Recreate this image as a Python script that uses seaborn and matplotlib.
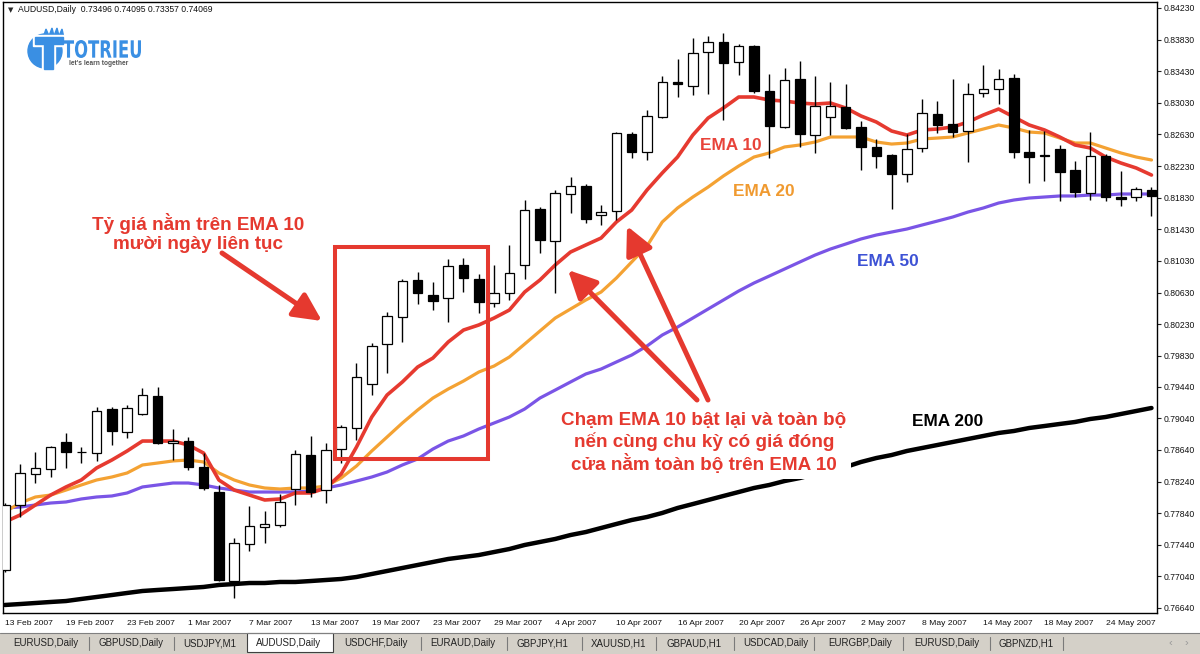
import matplotlib
matplotlib.use('Agg')
import matplotlib.pyplot as plt
import seaborn as sns
from matplotlib.patches import Rectangle, Circle, Polygon, FancyArrowPatch, PathPatch
from matplotlib.textpath import TextPath
from matplotlib.font_manager import FontProperties
from matplotlib.transforms import Affine2D

# AUDUSD daily candles, 13 Feb 2007 .. 29 May 2007
opens = [0.77121, 0.77943, 0.78335, 0.78398, 0.78740, 0.78613, 0.78601, 0.79157, 0.78866, 0.79094,
         0.79322, 0.78727, 0.78753, 0.78424, 0.78107, 0.76981, 0.77450, 0.77665, 0.77690, 0.78145,
         0.78575, 0.78133, 0.78651, 0.78917, 0.79474, 0.79980, 0.80321, 0.80789, 0.80599, 0.80561,
         0.80979, 0.80802, 0.80498, 0.80625, 0.80979, 0.81687, 0.81282, 0.81877, 0.81978, 0.81611,
         0.81662, 0.82636, 0.82408, 0.82851, 0.83294, 0.83243, 0.83673, 0.83800, 0.83547, 0.83749,
         0.83180, 0.82725, 0.83332, 0.82623, 0.82851, 0.82978, 0.82725, 0.82472, 0.82370, 0.82130,
         0.82459, 0.82889, 0.82763, 0.82674, 0.83155, 0.83205, 0.83345, 0.82408, 0.82370, 0.82446,
         0.82181, 0.81890, 0.82358, 0.81840, 0.81839, 0.81928]
highs = [0.77968, 0.78462, 0.78613, 0.78689, 0.78854, 0.78677, 0.79183, 0.79180, 0.79208, 0.79423,
         0.79436, 0.78904, 0.78803, 0.78601, 0.78196, 0.77526, 0.77930, 0.77867, 0.78082, 0.78639,
         0.78816, 0.78727, 0.78955, 0.79739, 0.79992, 0.80384, 0.80802, 0.80890, 0.80764, 0.81055,
         0.81068, 0.80865, 0.80979, 0.81232, 0.81801, 0.81713, 0.81928, 0.82092, 0.82004, 0.81738,
         0.82660, 0.82661, 0.82940, 0.83370, 0.83585, 0.83851, 0.83876, 0.83914, 0.83775, 0.83762,
         0.83395, 0.83471, 0.83560, 0.83370, 0.83294, 0.83269, 0.82801, 0.82573, 0.82380, 0.82636,
         0.83079, 0.83054, 0.83332, 0.83281, 0.83509, 0.83458, 0.83395, 0.82687, 0.82674, 0.82497,
         0.82295, 0.82661, 0.82383, 0.82168, 0.81966, 0.81966]
lows = [0.77095, 0.77791, 0.78221, 0.78297, 0.78411, 0.78474, 0.78500, 0.78702, 0.78790, 0.79081,
        0.78715, 0.78512, 0.78386, 0.78133, 0.76981, 0.76766, 0.77361, 0.77462, 0.77665, 0.77943,
        0.78044, 0.77968, 0.78474, 0.78765, 0.79334, 0.79613, 0.80005, 0.80486, 0.80410, 0.80258,
        0.80637, 0.80372, 0.80448, 0.80536, 0.80802, 0.81131, 0.80625, 0.81637, 0.81510, 0.81485,
        0.81548, 0.82332, 0.82307, 0.82840, 0.83104, 0.83129, 0.83142, 0.82813, 0.83382, 0.83155,
        0.82332, 0.82712, 0.82472, 0.82396, 0.82623, 0.82700, 0.82181, 0.82206, 0.81687, 0.82029,
        0.82408, 0.82649, 0.82598, 0.82282, 0.83104, 0.83016, 0.82332, 0.82016, 0.82042, 0.81789,
        0.81839, 0.81801, 0.81789, 0.81725, 0.81789, 0.81599]
closes = [0.77943, 0.78348, 0.78411, 0.78677, 0.78613, 0.78610, 0.79132, 0.78879, 0.79170, 0.79334,
          0.78727, 0.78753, 0.78424, 0.78158, 0.76994, 0.77462, 0.77677, 0.77703, 0.77981, 0.78588,
          0.78107, 0.78639, 0.78930, 0.79562, 0.79954, 0.80334, 0.80777, 0.80625, 0.80524, 0.80966,
          0.80814, 0.80511, 0.80625, 0.80878, 0.81675, 0.81295, 0.81890, 0.81978, 0.81561, 0.81649,
          0.82649, 0.82408, 0.82864, 0.83294, 0.83269, 0.83661, 0.83800, 0.83534, 0.83749, 0.83180,
          0.82737, 0.83319, 0.82636, 0.82990, 0.82990, 0.82712, 0.82472, 0.82358, 0.82130, 0.82446,
          0.82902, 0.82750, 0.82661, 0.83142, 0.83205, 0.83332, 0.82408, 0.82345, 0.82360, 0.82155,
          0.81902, 0.82358, 0.81839, 0.81820, 0.81940, 0.81852]

ema10 = [0.77728, 0.77816, 0.77943, 0.78069, 0.78171, 0.78259, 0.78411, 0.78512, 0.78626, 0.78752,
         0.78752, 0.78752, 0.78702, 0.78600, 0.78259, 0.78132, 0.78069, 0.78006, 0.78019, 0.78095,
         0.78095, 0.78158, 0.78335, 0.78676, 0.79056, 0.79334, 0.79499, 0.79688, 0.79802, 0.80005,
         0.80156, 0.80220, 0.80308, 0.80409, 0.80637, 0.80789, 0.80979, 0.81143, 0.81232, 0.81320,
         0.81523, 0.81674, 0.81927, 0.82143, 0.82345, 0.82623, 0.82838, 0.82965, 0.83104, 0.83104,
         0.83066, 0.83053, 0.83028, 0.83015, 0.83028, 0.82965, 0.82864, 0.82788, 0.82674, 0.82623,
         0.82687, 0.82699, 0.82725, 0.82788, 0.82876, 0.82952, 0.82851, 0.82750, 0.82687, 0.82598,
         0.82497, 0.82459, 0.82345, 0.82269, 0.82206, 0.82117]
ema20 = [0.77854, 0.77968, 0.78044, 0.78069, 0.78132, 0.78196, 0.78259, 0.78297, 0.78348, 0.78449,
         0.78474, 0.78500, 0.78512, 0.78487, 0.78348, 0.78259, 0.78196, 0.78158, 0.78145, 0.78158,
         0.78158, 0.78183, 0.78285, 0.78436, 0.78626, 0.78803, 0.78980, 0.79144, 0.79296, 0.79410,
         0.79511, 0.79625, 0.79701, 0.79815, 0.79979, 0.80144, 0.80308, 0.80422, 0.80536, 0.80637,
         0.80814, 0.81017, 0.81219, 0.81523, 0.81700, 0.81839, 0.81965, 0.82105, 0.82231, 0.82345,
         0.82396, 0.82472, 0.82497, 0.82535, 0.82598, 0.82598, 0.82598, 0.82535, 0.82509, 0.82522,
         0.82573, 0.82585, 0.82598, 0.82649, 0.82699, 0.82750, 0.82712, 0.82661, 0.82649, 0.82585,
         0.82522, 0.82522, 0.82459, 0.82396, 0.82345, 0.82307]
ema50 = [0.77905, 0.77917, 0.77943, 0.77968, 0.77981, 0.78019, 0.78044, 0.78057, 0.78095, 0.78171,
         0.78196, 0.78221, 0.78221, 0.78196, 0.78158, 0.78132, 0.78107, 0.78107, 0.78107, 0.78107,
         0.78120, 0.78158, 0.78196, 0.78246, 0.78297, 0.78360, 0.78449, 0.78525, 0.78651, 0.78752,
         0.78816, 0.78904, 0.78980, 0.79056, 0.79157, 0.79296, 0.79397, 0.79499, 0.79600, 0.79663,
         0.79752, 0.79840, 0.79954, 0.80093, 0.80194, 0.80308, 0.80422, 0.80536, 0.80650, 0.80751,
         0.80839, 0.80928, 0.81017, 0.81105, 0.81181, 0.81244, 0.81308, 0.81358, 0.81396, 0.81434,
         0.81485, 0.81535, 0.81586, 0.81649, 0.81700, 0.81763, 0.81801, 0.81826, 0.81839, 0.81852,
         0.81852, 0.81864, 0.81864, 0.81877, 0.81877, 0.81877]
ema200 = [0.76678, 0.76690, 0.76703, 0.76716, 0.76728, 0.76754, 0.76779, 0.76804, 0.76830, 0.76855,
          0.76868, 0.76880, 0.76893, 0.76906, 0.76931, 0.76943, 0.76956, 0.76956, 0.76969, 0.76969,
          0.76981, 0.76994, 0.77007, 0.77032, 0.77070, 0.77108, 0.77146, 0.77184, 0.77222, 0.77260,
          0.77285, 0.77310, 0.77348, 0.77386, 0.77437, 0.77475, 0.77513, 0.77563, 0.77601, 0.77652,
          0.77703, 0.77753, 0.77791, 0.77842, 0.77905, 0.77955, 0.78006, 0.78057, 0.78107, 0.78158,
          0.78196, 0.78246, 0.78284, 0.78335, 0.78373, 0.78424, 0.78487, 0.78537, 0.78575, 0.78626,
          0.78664, 0.78702, 0.78740, 0.78778, 0.78816, 0.78854, 0.78879, 0.78917, 0.78942, 0.78968,
          0.78993, 0.79031, 0.79056, 0.79094, 0.79132, 0.79170]

date_ticks = [0, 4, 8, 12, 16, 20, 24, 28, 32, 36, 40, 44, 48, 52, 56, 60, 64, 68, 72]
date_labels = ['13 Feb 2007', '19 Feb 2007', '23 Feb 2007', '1 Mar 2007', '7 Mar 2007',
               '13 Mar 2007', '19 Mar 2007', '23 Mar 2007', '29 Mar 2007', '4 Apr 2007',
               '10 Apr 2007', '16 Apr 2007', '20 Apr 2007', '26 Apr 2007', '2 May 2007',
               '8 May 2007', '14 May 2007', '18 May 2007', '24 May 2007']
price_ticks = [0.84230, 0.83830, 0.83430, 0.83030, 0.82630, 0.82230, 0.81830, 0.81430, 0.81030,
               0.80630, 0.80230, 0.79830, 0.79440, 0.79040, 0.78640, 0.78240, 0.77840, 0.77440,
               0.77040, 0.76640]
tabs = ['EURUSD,Daily', 'GBPUSD,Daily', 'USDJPY,M1', 'AUDUSD,Daily', 'USDCHF,Daily',
        'EURAUD,Daily', 'GBPJPY,H1', 'XAUUSD,H1', 'GBPAUD,H1', 'USDCAD,Daily',
        'EURGBP,Daily', 'EURUSD,Daily', 'GBPNZD,H1']

sns.set_style('white')
plt.rcParams['font.family'] = ['Liberation Sans', 'DejaVu Sans']

RED = '#e5392f'
fig = plt.figure(figsize=(12, 6.54), dpi=100)
ax = fig.add_axes([3 / 1200, 41 / 654, 1154 / 1200, 611 / 654])

x = list(range(len(opens)))

# moving averages
sns.lineplot(x=x, y=ema200, ax=ax, color='black', lw=3.2, sort=False, estimator=None, zorder=2)
sns.lineplot(x=x, y=ema50, ax=ax, color='#7a55e6', lw=2.3, sort=False, estimator=None, zorder=2)
sns.lineplot(x=x, y=ema20, ax=ax, color='#f4a233', lw=2.3, sort=False, estimator=None, zorder=2)
sns.lineplot(x=x, y=ema10, ax=ax, color='#e63a30', lw=2.6, sort=False, estimator=None, zorder=2)

# candles
ax.vlines(x, lows, highs, color='black', lw=1, zorder=3)
bottoms = [min(o, c) for o, c in zip(opens, closes)]
heights = [max(abs(c - o), 0.00002) for o, c in zip(opens, closes)]
colors = ['white' if c >= o else 'black' for o, c in zip(opens, closes)]
ax.bar(x, heights, bottom=bottoms, width=0.62, color=colors, edgecolor='black', lw=0.9, zorder=4)

ax.set_xlim(-0.12, 75.36)
ax.set_ylim(0.765766, 0.843059)
ax.set_xlabel('')
ax.set_ylabel('')
ax.set_xticks(date_ticks)
ax.set_xticklabels(date_labels, ha='left', fontsize=6.1, color='#111111')
ax.yaxis.tick_right()
ax.set_yticks(price_ticks)
ax.set_yticklabels(['%.5f' % v for v in price_ticks], fontsize=6.2, color='#111111')
ax.tick_params(axis='both', direction='out', length=3, width=0.8, pad=2, color='#222222')
for s in ax.spines.values():
    s.set_color('black')
    s.set_linewidth(1)

# overlay in pixel coordinates for window chrome and annotations
ov = fig.add_axes([0, 0, 1, 1], zorder=10)
ov.set_xlim(0, 1200)
ov.set_ylim(654, 0)
ov.axis('off')

# header
ov.text(8, 10, '\u25bc', fontsize=5, va='center', ha='left', family='DejaVu Sans')
ov.text(18, 10, 'AUDUSD,Daily  0.73496 0.74095 0.73357 0.74069', fontsize=6.2,
        va='center', ha='left', color='#111111')

# logo
BLUE = '#3a8fe3'
ov.add_patch(Circle((45, 51), 17, color=BLUE))
ov.add_patch(Polygon([(43, 38), (46, 29), (49, 36), (52, 28), (54, 36), (57, 28), (59, 36),
                      (62, 29), (64, 38)], closed=True, color=BLUE))
ov.add_patch(Rectangle((33, 35), 32, 11, color='white'))
ov.add_patch(Rectangle((42, 44), 13, 26, color='white'))
ov.add_patch(Rectangle((35, 37), 28, 7, color=BLUE))
ov.add_patch(Rectangle((44, 44), 9, 25, color=BLUE))
tp = TextPath((0, 0), 'TOTRIEU', size=25, prop=FontProperties(family='DejaVu Sans', weight='bold'))
ext = tp.get_extents()
sx = 78 / ext.width
sy = 18 / ext.height
tp = Affine2D().translate(-ext.x0, -ext.y0).scale(sx, -sy).translate(63, 58).transform_path(tp)
ov.add_patch(PathPatch(tp, color=BLUE, lw=0))
ov.text(99, 63.5, "let's learn together", fontsize=4.8, color='#555555', ha='center',
        va='center', fontweight='bold')

# annotations
ov.add_patch(Rectangle((335, 247), 153, 212, fill=False, ec=RED, lw=2.9))
ov.text(198, 233, 'Tỷ giá nằm trên EMA 10\nmười ngày liên tục', fontsize=13.6, fontweight='bold',
        color=RED, ha='center', va='center', multialignment='center')
ov.text(704, 443, 'Chạm EMA 10 bật lại và toàn bộ\nnến cùng chu kỳ có giá đóng\ncửa nằm toàn bộ trên EMA 10',
        fontsize=13.6, fontweight='bold', color=RED, ha='center', va='center', multialignment='center',
        bbox=dict(boxstyle='square,pad=0.25', fc='white', ec='none'))
for a, b in [((222, 253), (322, 321)), ((697, 400), (568, 270)), ((708, 400), (627, 226))]:
    ov.add_patch(FancyArrowPatch(a, b, arrowstyle='-|>,head_length=0.85,head_width=0.42',
                                 mutation_scale=20, lw=3.6, color=RED, shrinkA=0, shrinkB=0))
ov.text(731, 145, 'EMA 10', fontsize=12.4, fontweight='bold', color='#e8433a', ha='center', va='center')
ov.text(764, 191, 'EMA 20', fontsize=12.4, fontweight='bold', color='#f09a30', ha='center', va='center')
ov.text(888, 262, 'EMA 50', fontsize=12.4, fontweight='bold', color='#3d52d5', ha='center', va='center')
ov.text(948, 421, 'EMA 200', fontsize=12.4, fontweight='bold', color='black', ha='center', va='center')

# tab bar
ov.add_patch(Rectangle((0, 633), 1200, 21, fc='#d4d0c8', ec='none'))
ov.plot([0, 1200], [633, 633], color='#808080', lw=0.8)
ov.add_patch(Rectangle((247, 633), 86, 19, fc='white', ec='#404040', lw=0.8))
for sxp in [89, 174, 421, 507, 582, 656, 734, 814, 903, 990, 1063]:
    ov.plot([sxp, sxp], [637, 650], color='#7a7a7a', lw=0.8)
tab_x = [46, 131, 210, 289, 376, 463, 542, 619, 694, 776, 860, 947, 1026]
for tx, name in zip(tab_x, tabs):
    ov.text(tx, 643, name, fontsize=7, ha='center', va='center', color='#222222')
ov.text(1170, 643, '\u2039', fontsize=8, ha='center', va='center', color='#999999')
ov.text(1186, 643, '\u203a', fontsize=8, ha='center', va='center', color='#999999')

fig.savefig('out.png', dpi=100)
